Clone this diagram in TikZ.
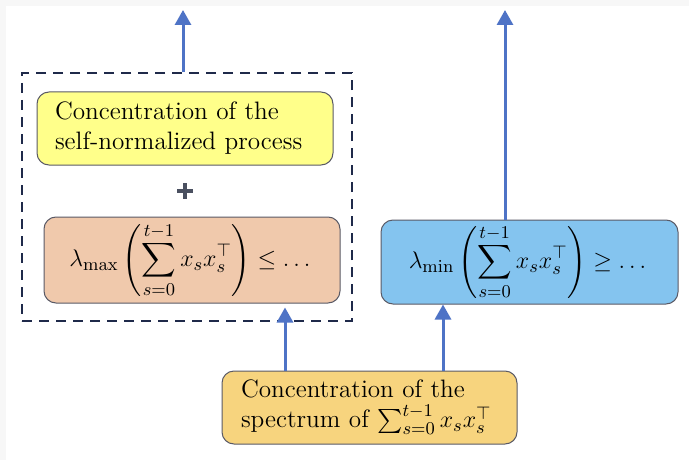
\documentclass[tikz,border=0pt]{standalone}
\usepackage{amsmath}
\usetikzlibrary{arrows.meta,calc}
\definecolor{ybox}{HTML}{FFFF8A}
\definecolor{obox}{HTML}{F0C9AC}
\definecolor{bbox}{HTML}{84C4EF}
\definecolor{gbox}{HTML}{F7D47E}
\definecolor{navy}{HTML}{1F2A4A}
\definecolor{arrcol}{HTML}{4E73C6}
\definecolor{pluscol}{HTML}{4A5060}
\definecolor{edgecol}{HTML}{5A5A66}
\tikzset{
  box/.style={draw=edgecol, line width=0.5pt, rounded corners=6pt, inner sep=0pt,
    font=\fontsize{12.6}{15}\selectfont},
  arr/.style={draw=arrcol, line width=1.5pt, -{Triangle[width=8pt,length=7.5pt]}},
  dashbox/.style={draw=navy, line width=1.2pt, dash pattern=on 5pt off 3.5pt, inner sep=0pt}
}
\begin{document}
\begin{tikzpicture}[x=0.5pt,y=-0.5pt]
\useasboundingbox (0,0) rectangle (689,460);
\fill[black!3] (0,0) rectangle (689,460);
\fill[white] (6,6) rectangle (689,460);
% dashed group
\node[dashbox, minimum width=165pt, minimum height=124pt] (grp) at (187,197) {};
% yellow
\node[box, fill=ybox, minimum width=148pt, minimum height=36.5pt, inner xsep=9pt, text width=130pt, align=left] (yel) at (185,128.5)
  {Concentration of the\\self-normalized process};
% plus
\coordinate (plus) at (185,191);
\draw[pluscol, line width=2.2pt] ($(plus)+(-8,0)$) -- ($(plus)+(8,0)$);
\draw[pluscol, line width=2.2pt] ($(plus)+(0,-8)$) -- ($(plus)+(0,8)$);
% orange
\node[box, fill=obox, minimum width=148pt, minimum height=43pt] (org) at (192,260)
  {$\displaystyle \lambda_{\max}\left(\sum_{s=0}^{t-1} x_s x_s^{\top}\right) \le \dots\,$};
% blue
\node[box, fill=bbox, minimum width=148.5pt, minimum height=42pt] (blu) at (529.5,262)
  {$\displaystyle \lambda_{\min}\left(\sum_{s=0}^{t-1} x_s x_s^{\top}\right) \ge \dots$};
% bottom
\node[box, fill=gbox, minimum width=147.5pt, minimum height=36.5pt, inner xsep=9.5pt, text width=128.5pt, align=left] (bot) at (369.5,407.5)
  {Concentration of the\\spectrum of $\sum_{s=0}^{t-1} x_s x_s^{\top}$};
% arrows
\coordinate (t1) at (183,10);
\coordinate (t2) at (505,10);
\coordinate (x3) at (285,0);
\coordinate (x4) at (443,0);
\draw[arr] (grp.north -| t1) -- (t1);
\draw[arr] (blu.north -| t2) -- (t2);
\draw[arr] (bot.north -| x3) -- ($(org.south -| x3)+(0,4)$);
\draw[arr] (bot.north -| x4) -- (blu.south -| x4);
\end{tikzpicture}
\end{document}
